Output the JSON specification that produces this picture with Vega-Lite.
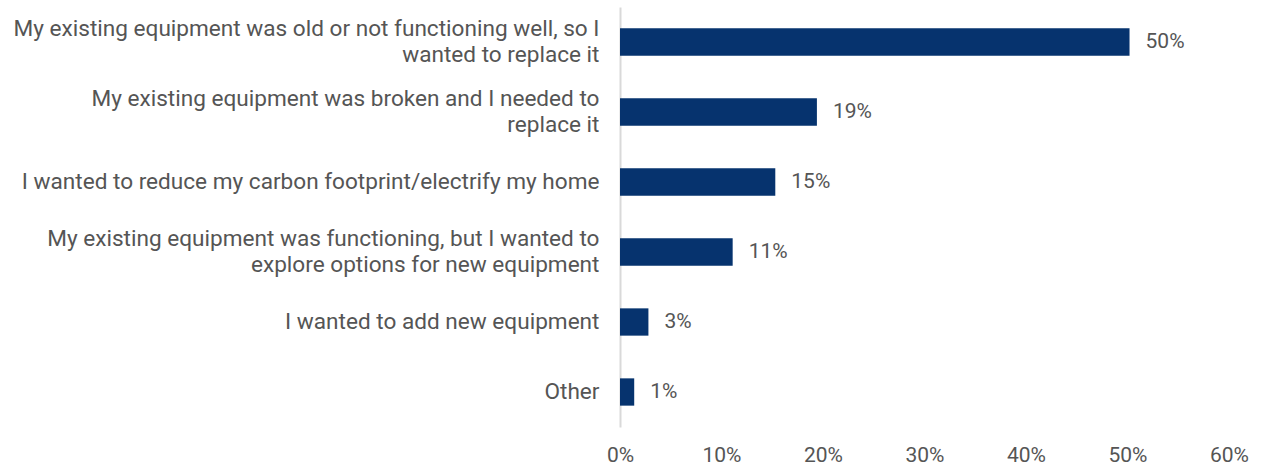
{
  "$schema": "https://vega.github.io/schema/vega-lite/v6.json",
  "autosize": {"type": "none"},
  "padding": {"left": 620, "top": 7, "right": 32, "bottom": 41},
  "width": 609,
  "height": 420,
  "background": "white",
  "config": {"view": {"stroke": null}, "font": "Roboto"},
  "data": {"values": [
    {"reason": "My existing equipment was old or not functioning well, so I|wanted to replace it", "share": 0.502, "order": 1},
    {"reason": "My existing equipment was broken and I needed to|replace it", "share": 0.194, "order": 2},
    {"reason": "I wanted to reduce my carbon footprint/electrify my home", "share": 0.153, "order": 3},
    {"reason": "My existing equipment was functioning, but I wanted to|explore options for new equipment", "share": 0.111, "order": 4},
    {"reason": "I wanted to add new equipment", "share": 0.028, "order": 5},
    {"reason": "Other", "share": 0.014, "order": 6}
  ]},
  "encoding": {
    "y": {
      "field": "reason", "type": "nominal", "sort": {"field": "order", "order": "ascending"},
      "scale": {"paddingInner": 0.61, "paddingOuter": 0.305},
      "axis": {
        "title": null, "ticks": false, "domain": true, "domainColor": "#d9d9d9", "domainWidth": 2,
        "labelExpr": "split(datum.label, '|')", "labelFontSize": 22.6, "labelColor": "#555555",
        "labelPadding": 21, "labelLineHeight": 26, "labelLimit": 700, "labelFont": "Roboto",
        "labelOffset": {"expr": "indexof(datum.value, '|') >= 0 ? -13 : 0"}
      }
    },
    "x": {
      "field": "share", "type": "quantitative",
      "scale": {"domain": [0, 0.6]},
      "axis": {
        "title": null, "grid": false, "domain": false, "ticks": false, "values": [0, 0.1, 0.2, 0.3, 0.4, 0.5, 0.6],
        "format": ".0%", "labelFontSize": 21, "labelColor": "#555555",
        "labelPadding": 17, "labelFont": "Roboto", "labelFlush": false
      }
    }
  },
  "layer": [
    {"mark": {"type": "bar", "color": "#06336E"}},
    {"mark": {"type": "text", "align": "left", "dx": 16, "fontSize": 21, "color": "#555555", "font": "Roboto"},
     "encoding": {"text": {"field": "share", "type": "quantitative", "format": ".0%"}}}
  ]
}
